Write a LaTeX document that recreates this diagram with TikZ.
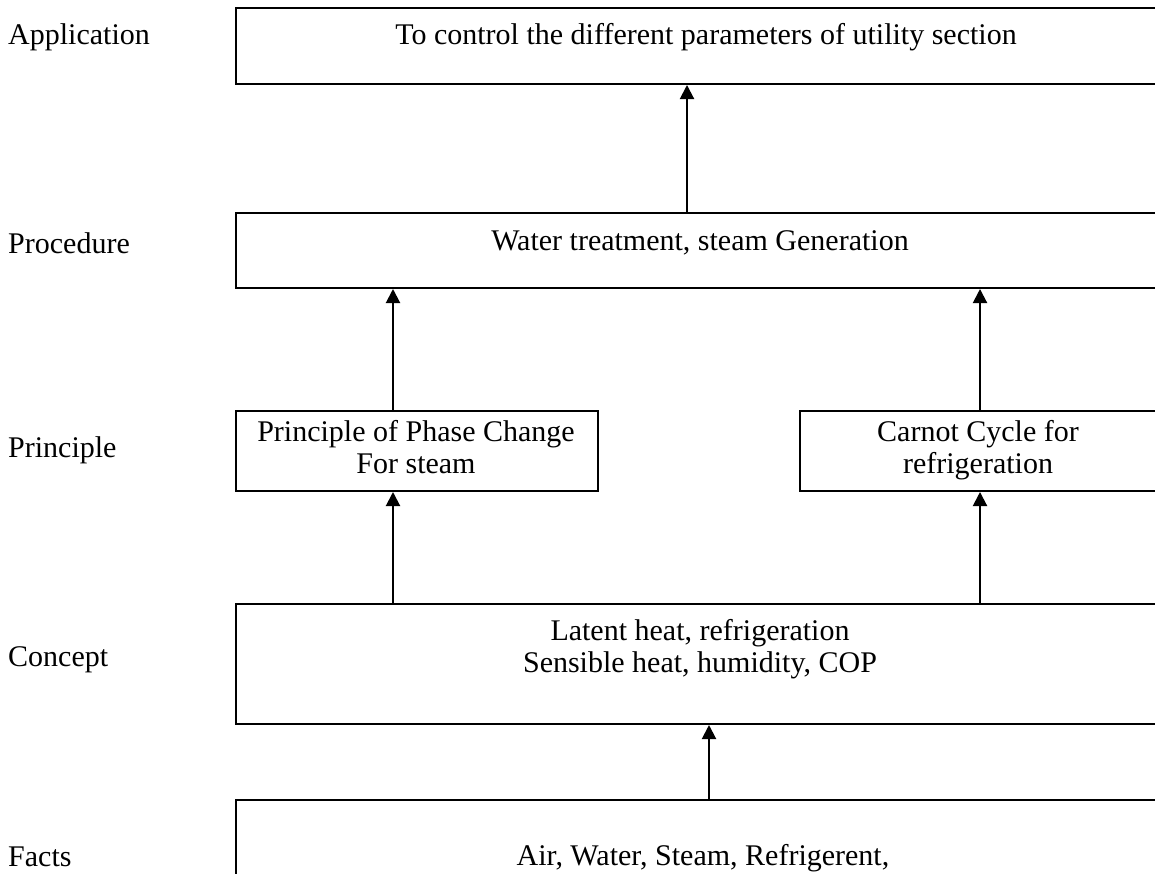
\documentclass[tikz,border=0pt]{standalone}
\usepackage{fontspec}
\setmainfont{Liberation Serif}
\usetikzlibrary{arrows.meta}
\begin{document}
\begin{tikzpicture}[x=1pt,y=-1pt,
  every node/.style={font=\fontsize{30}{32}\selectfont},
  stage/.style={draw,line width=2pt,rectangle,inner sep=0pt,anchor=north west},
  level/.style={anchor=west,inner sep=0pt},
  caption/.style={align=center,inner sep=0pt},
  arr/.style={line width=2pt,-{Triangle[width=14pt,length=14pt]}}]
\useasboundingbox (0,0) rectangle (1155,873);
\clip (0,0) rectangle (1155,873);

% level names on the left
\node[level] (lapp)  at (8,37)  {Application};
\node[level] (lproc) at (8,243) {Procedure};
\node[level] (lprin) at (8,450) {Principle};
\node[level] (lcon)  at (8,660) {Concept};
\node[level] (lfac)  at (8,857) {Facts};

% boxes
\node[stage,minimum width=960,minimum height=76]  (app)  at (235,7)   {};
\node[stage,minimum width=960,minimum height=75]  (proc) at (235,212) {};
\node[stage,minimum width=362,minimum height=80]  (pa)   at (235,410) {};
\node[stage,minimum width=362,minimum height=80]  (pb)   at (799,410) {};
\node[stage,minimum width=960,minimum height=120] (con)  at (235,603) {};
\node[stage,minimum width=960,minimum height=120] (fac)  at (235,799) {};

% box texts
\node[caption] (tapp)  at (706,37)  {To control the different parameters of utility section};
\node[caption] (tproc) at (700,243) {Water treatment, steam Generation};
\node[caption] (tpa)   at (416,451) {\strut Principle of Phase Change\\\strut For steam};
\node[caption] (tpb)   at (978,451) {\strut Carnot Cycle for\\\strut refrigeration};
\node[caption] (tcon)  at (700,650) {\strut Latent heat, refrigeration\\\strut Sensible heat, humidity, COP};
\node[caption] (tfac)  at (703,858) {Air, Water, Steam, Refrigerent,};

% connectors
\draw[arr] (proc.north -| 687,0) -- (app.south -| 687,0);
\draw[arr] (pa.north -| 393,0)   -- (proc.south -| 393,0);
\draw[arr] (pb.north -| 980,0)   -- (proc.south -| 980,0);
\draw[arr] (con.north -| 393,0)  -- (pa.south -| 393,0);
\draw[arr] (con.north -| 980,0)  -- (pb.south -| 980,0);
\draw[arr] (fac.north -| 709,0)  -- (con.south -| 709,0);
\end{tikzpicture}
\end{document}
